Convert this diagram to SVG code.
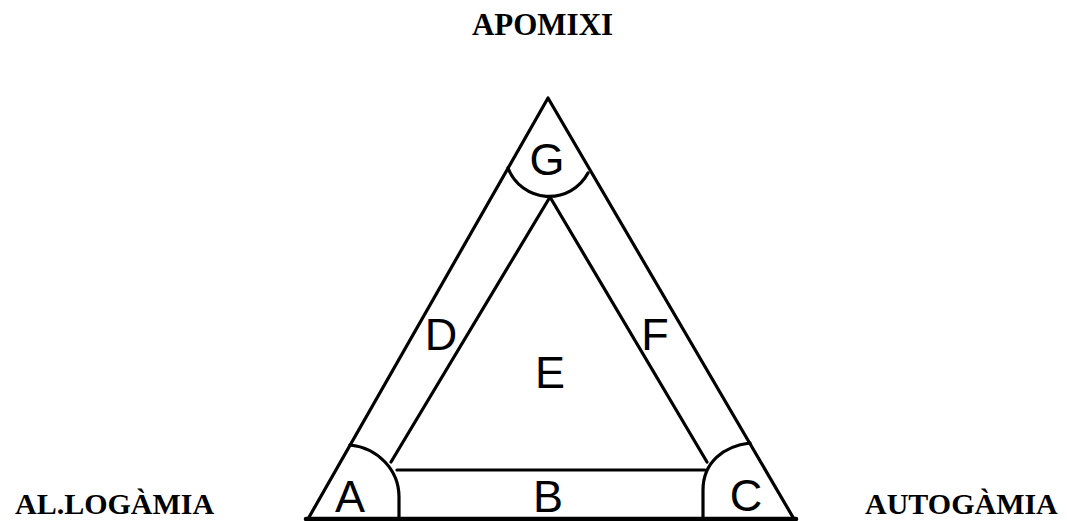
<svg xmlns="http://www.w3.org/2000/svg" width="1067" height="521" viewBox="0 0 1067 521">
<style>
.ln{fill:none;stroke:#000;stroke-width:3.2;stroke-linecap:round;stroke-linejoin:round}
.lt{font-family:"Liberation Sans",Arial,sans-serif;font-size:45px;fill:#000;text-anchor:middle}
.tt{font-family:"Liberation Serif","Times New Roman",serif;font-weight:bold;font-size:30px;fill:#000}
</style>
<rect width="1067" height="521" fill="#fff"/>
<g id="connectors">
<path class="ln" d="M308,519 L548,98 L794,519"/>
<path class="ln" d="M306,519 L796,519" style="stroke-width:4.5"/>
<path class="ln" d="M550,197 L391,462"/>
<path class="ln" d="M550,197 L707,462"/>
<path class="ln" d="M397,470 L705,470"/>
<path class="ln" d="M508,168 A44,44 0 0 0 588,173"/>
<path class="ln" d="M350,445 C378,448 399,470 399,497 L399,519"/>
<path class="ln" d="M750,443 C724,446 703,462 703,490 L703,519"/>
</g>
<g id="node-G"><text class="lt" x="547" y="175">G</text></g>
<g id="node-D"><text class="lt" x="441" y="350">D</text></g>
<g id="node-E"><text class="lt" x="550" y="388">E</text></g>
<g id="node-F"><text class="lt" x="655" y="350">F</text></g>
<g id="node-A"><text class="lt" x="350" y="512">A</text></g>
<g id="node-B"><text class="lt" x="548" y="512">B</text></g>
<g id="node-C"><text class="lt" x="746" y="511">C</text></g>
<g id="label-apomixi"><text class="tt" x="542.5" y="35" text-anchor="middle" style="font-size:31px">APOMIXI</text></g>
<g id="label-allogamia"><text class="tt" x="15" y="514">AL.LOGÀMIA</text></g>
<g id="label-autogamia"><text class="tt" x="865" y="514">AUTOGÀMIA</text></g>
</svg>
